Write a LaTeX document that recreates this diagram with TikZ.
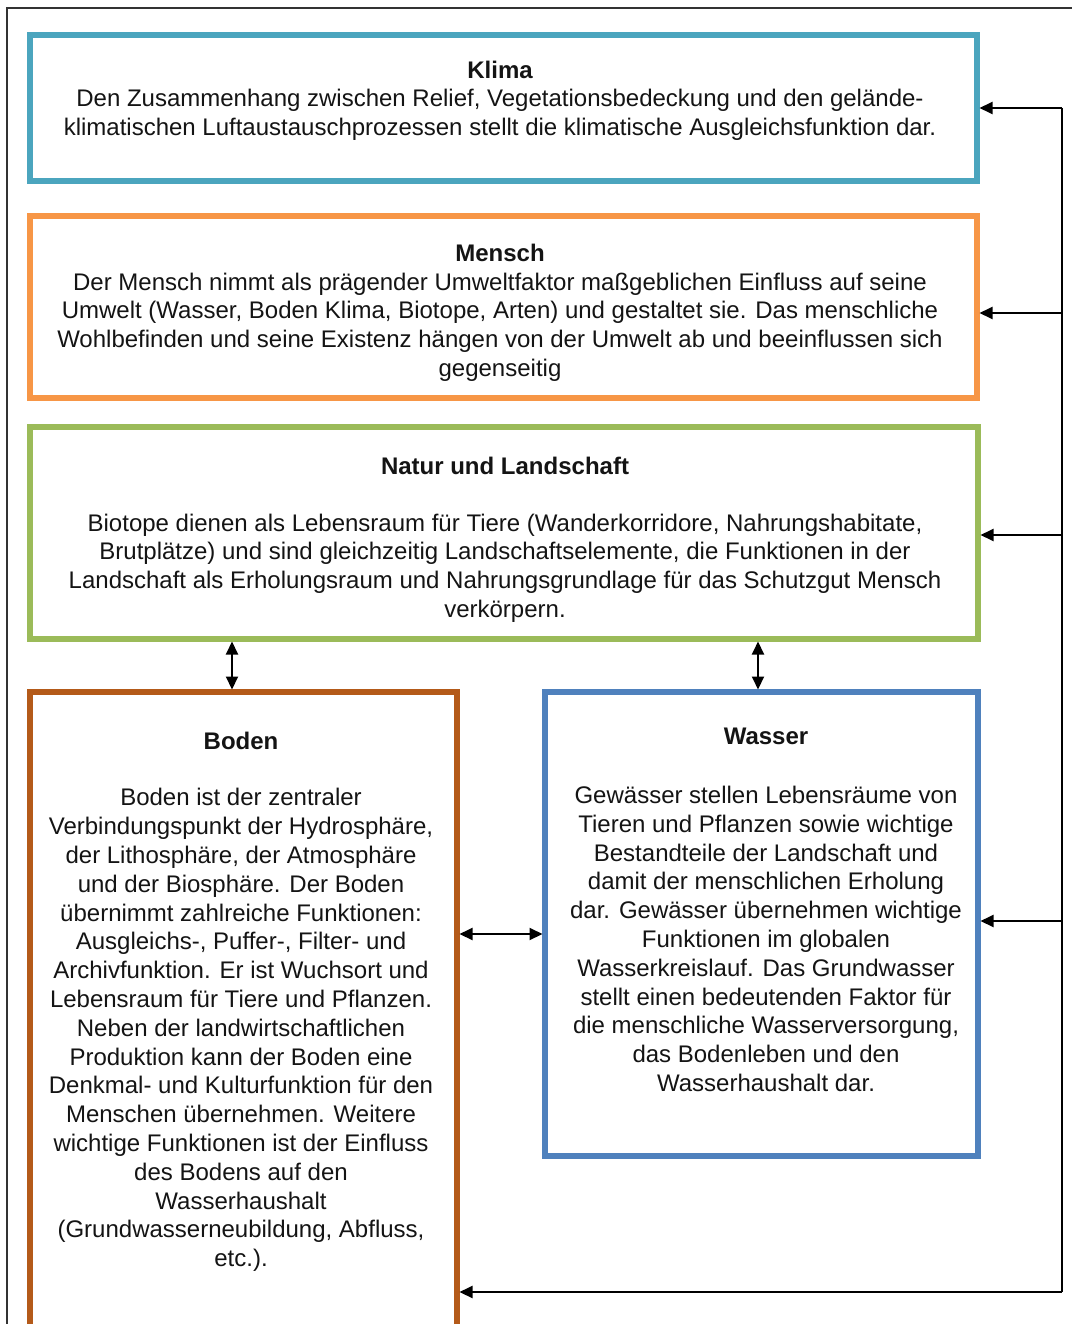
\documentclass[tikz,border=0pt]{standalone}
\usepackage{fontspec}
\setmainfont{Liberation Sans}
\usetikzlibrary{arrows.meta}
\definecolor{cKlima}{RGB}{75,165,190}
\definecolor{cMensch}{RGB}{247,150,70}
\definecolor{cNatur}{RGB}{155,187,89}
\definecolor{cBoden}{RGB}{180,90,25}
\definecolor{cWasser}{RGB}{79,129,189}
\definecolor{txt}{RGB}{20,20,20}
\begin{document}
\begin{tikzpicture}[x=1pt,y=-1pt,
 box/.style={draw, line width=5.5pt, rectangle, inner sep=0pt, outer sep=0pt, anchor=north west},
 body/.style={align=center, font=\fontsize{24}{28.8}\selectfont, text=txt, inner sep=0pt},
 title/.style={font=\fontsize{24}{28.8}\selectfont\bfseries, text=txt, inner sep=0pt},
 conn/.style={line width=2pt, draw=black},
 arr/.style={conn, -{Triangle[length=13pt,width=12pt]}, shorten >=2.5pt},
 dbl/.style={conn, {Triangle[length=13pt,width=12pt]}-{Triangle[length=13pt,width=12pt]}, shorten >=2.5pt, shorten <=2.5pt}]
\useasboundingbox (0,0) rectangle (1071,1324);
\fill[white] (0,0) rectangle (1071,1324);
% outer frame
\draw[line width=1.2pt, draw=black!80] (7,1330) -- (7,8) -- (1075,8);

% boxes
\node[box, draw=cKlima, minimum width=947pt, minimum height=146pt] (klima) at (30,35) {};
\node[box, draw=cMensch, minimum width=947pt, minimum height=182pt] (mensch) at (30,216) {};
\node[box, draw=cNatur, minimum width=948pt, minimum height=212pt] (natur) at (30,427) {};
\node[box, draw=cBoden, minimum width=427pt, minimum height=650pt] (boden) at (30,692) {};
\node[box, draw=cWasser, minimum width=433pt, minimum height=464pt] (wasser) at (545,692) {};

% texts
\node[title] (tklima) at (500,70) {Klima};
\node[body] (bklima) at (500,115) {Den Zusammenhang zwischen Relief, Vegetationsbedeckung und den gelände-\\klimatischen Luftaustauschprozessen stellt die klimatische Ausgleichsfunktion dar.};

\node[title] (tmensch) at (500,253) {Mensch};
\node[body] (bmensch) at (500,327) {Der Mensch nimmt als prägender Umweltfaktor maßgeblichen Einfluss auf seine\\Umwelt (Wasser, Boden Klima, Biotope, Arten) und gestaltet sie. Das menschliche\\Wohlbefinden und seine Existenz hängen von der Umwelt ab und beeinflussen sich\\gegenseitig};

\node[title] (tnatur) at (505,466) {Natur und Landschaft};
\node[body] (bnatur) at (505,568) {Biotope dienen als Lebensraum für Tiere (Wanderkorridore, Nahrungshabitate,\\Brutplätze) und sind gleichzeitig Landschaftselemente, die Funktionen in der\\Landschaft als Erholungsraum und Nahrungsgrundlage für das Schutzgut Mensch\\verkörpern.};

\node[title] (tboden) at (241,741) {Boden};
\node[body] (bboden) at (241,1030) {Boden ist der zentraler\\Verbindungspunkt der Hydrosphäre,\\der Lithosphäre, der Atmosphäre\\und der Biosphäre. Der Boden\\übernimmt zahlreiche Funktionen:\\Ausgleichs-, Puffer-, Filter- und\\Archivfunktion. Er ist Wuchsort und\\Lebensraum für Tiere und Pflanzen.\\Neben der landwirtschaftlichen\\Produktion kann der Boden eine\\Denkmal- und Kulturfunktion für den\\Menschen übernehmen. Weitere\\wichtige Funktionen ist der Einfluss\\des Bodens auf den\\Wasserhaushalt\\(Grundwasserneubildung, Abfluss,\\etc.).};

\node[title] (twasser) at (766,736) {Wasser};
\node[body] (bwasser) at (766,939) {Gewässer stellen Lebensräume von\\Tieren und Pflanzen sowie wichtige\\Bestandteile der Landschaft und\\damit der menschlichen Erholung\\dar. Gewässer übernehmen wichtige\\Funktionen im globalen\\Wasserkreislauf. Das Grundwasser\\stellt einen bedeutenden Faktor für\\die menschliche Wasserversorgung,\\das Bodenleben und den\\Wasserhaushalt dar.};

% bus on the right
\coordinate (b1) at (1062,108);
\coordinate (b2) at (1062,313);
\coordinate (b3) at (1062,535);
\coordinate (b4) at (1062,921);
\coordinate (b5) at (1062,1292);
\draw[conn] (b1) -- (b5);
\draw[arr] (b1) -- (b1 -| klima.east);
\draw[arr] (b2) -- (b2 -| mensch.east);
\draw[arr] (b3) -- (b3 -| natur.east);
\draw[arr] (b4) -- (b4 -| wasser.east);
\draw[arr] (b5) -- (b5 -| boden.east);

% double arrows
\coordinate (v1) at (232,0);
\coordinate (v2) at (758,0);
\coordinate (h1) at (0,934);
\draw[dbl] (v1 |- natur.south) -- (v1 |- boden.north);
\draw[dbl] (v2 |- natur.south) -- (v2 |- wasser.north);
\draw[dbl] (h1 -| boden.east) -- (h1 -| wasser.west);
\end{tikzpicture}
\end{document}
